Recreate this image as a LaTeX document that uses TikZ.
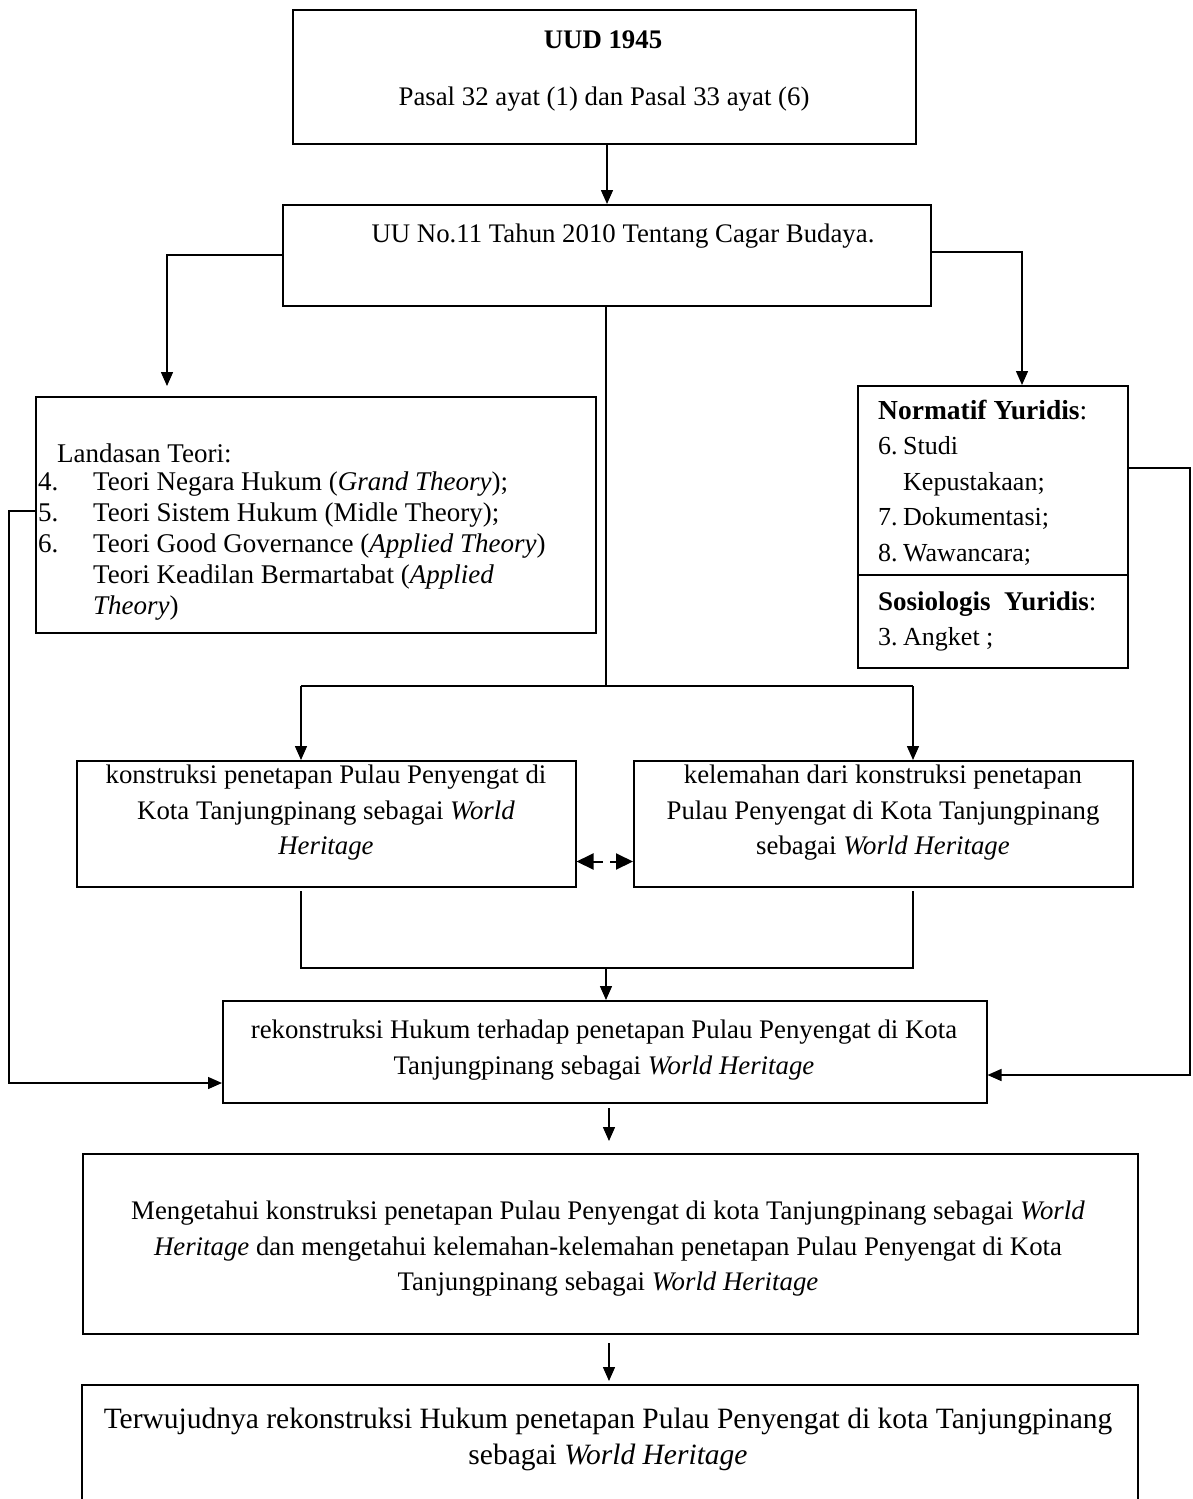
\documentclass[tikz,border=0pt]{standalone}
\usepackage{fontspec}
\setmainfont{Liberation Serif}
\usetikzlibrary{arrows.meta,calc}
\newcommand{\fA}{\fontsize{26.8}{35.5}\selectfont}
\newcommand{\fB}{\fontsize{27}{31.2}\selectfont}
\newcommand{\fC}{\fontsize{26}{35.5}\selectfont}
\newcommand{\fD}{\fontsize{29.5}{36}\selectfont}
\begin{document}
\begin{tikzpicture}[x=1pt,y=-1pt,
  box/.style={draw, line width=1.5pt, anchor=north west, inner sep=0pt},
  ln/.style={line width=1.5pt},
  arr/.style={line width=1.5pt, -{Triangle[length=14pt,width=12pt]}},
  txt/.style={inner sep=0pt, align=center, font=\fA}]
\clip (0,0) rectangle (1192,1499);
\useasboundingbox (0,0) rectangle (1192,1499);
\fill[white] (0,0) rectangle (1192,1499);

% boxes
\node[box, minimum width=623pt, minimum height=134pt] (b1) at (292,9) {};
\node[box, minimum width=648pt, minimum height=101pt] (b2) at (282,204) {};
\node[box, minimum width=560pt, minimum height=236pt] (b3) at (35,396) {};
\node[box, minimum width=270pt, minimum height=282pt] (b4) at (857,385) {};
\node[box, minimum width=499pt, minimum height=126pt] (b5) at (76,760) {};
\node[box, minimum width=499pt, minimum height=126pt] (b6) at (633,760) {};
\node[box, minimum width=764pt, minimum height=102pt] (b7) at (222,1000) {};
\node[box, minimum width=1055pt, minimum height=180pt] (b8) at (82,1153) {};
\node[box, minimum width=1056pt, minimum height=160pt] (b9) at (81,1384) {};

% texts
\node[txt, font=\fA\bfseries] (t1a) at (603,40) {UUD 1945};
\node[txt] (t1b) at (604,99) {Pasal 32 ayat (1) dan Pasal 33 ayat (6)};
\node[txt] (t2) at (623,236) {UU No.11 Tahun 2010 Tentang Cagar Budaya.};
\node[txt, anchor=west, font=\fB] (t3a) at (57,453) {Landasan Teori:};
\node[txt, anchor=north west, font=\fB, align=left] (t3b) at (38,468) {%
  \begin{tabular}{@{}p{55pt}@{}l@{}}
  4. & Teori Negara Hukum (\textit{Grand Theory});\\
  5. & Teori Sistem Hukum (Midle Theory);\\
  6. & Teori Good Governance (\textit{Applied Theory})\\
     & Teori Keadilan Bermartabat (\textit{Applied}\\
     & \textit{Theory})
  \end{tabular}};
\node[txt, anchor=north west, font=\fC, align=left] (t4a) at (878,394) {%
  \begin{tabular}{@{}p{25pt}@{}l@{}}
  \multicolumn{2}{@{}l@{}}{\fontsize{27.5}{35.5}\selectfont\textbf{Normatif Yuridis}:}\\
  6. & Studi\\
     & Kepustakaan;\\
  7. & Dokumentasi;\\
  8. & Wawancara;
  \end{tabular}};
\node[txt, anchor=north west, font=\fC, align=left] (t4b) at (878,585) {%
  \begin{tabular}{@{}p{25pt}@{}l@{}}
  \multicolumn{2}{@{}l@{}}{\fontsize{27}{35.5}\selectfont\textbf{Sosiologis\ \ Yuridis}:}\\
  3. & Angket ;
  \end{tabular}};
\node[txt] (t5) at (326,813) {konstruksi penetapan Pulau Penyengat di\\Kota Tanjungpinang sebagai \textit{World}\\\textit{Heritage}};
\node[txt] (t6) at (883,813) {kelemahan dari konstruksi penetapan\\Pulau Penyengat di Kota Tanjungpinang\\sebagai \textit{World Heritage}};
\node[txt] (t7) at (604,1050) {rekonstruksi Hukum terhadap penetapan Pulau Penyengat di Kota\\Tanjungpinang sebagai \textit{World Heritage}};
\node[txt] (t8) at (608,1249) {Mengetahui konstruksi penetapan Pulau Penyengat di kota Tanjungpinang sebagai \textit{World}\\\textit{Heritage} dan mengetahui kelemahan-kelemahan penetapan Pulau Penyengat di Kota\\Tanjungpinang sebagai \textit{World Heritage}};
\node[txt, font=\fD] (t9) at (608,1439) {Terwujudnya rekonstruksi Hukum penetapan Pulau Penyengat di kota Tanjungpinang\\sebagai \textit{World Heritage}};

% divider in b4
\coordinate (dv) at (0,575);
\draw[ln] (b4.west |- dv) -- (b4.east |- dv);

% connectors
\coordinate (A1) at (607,145);
\draw[arr] (A1) -- (A1 |- b2.north);
\coordinate (TL) at (167,255);
\coordinate (TLe) at (167,386);
\draw[arr] (b2.west |- TL) -- (TL) -- (TLe);
\coordinate (TR) at (1022,252);
\draw[arr] (b2.east |- TR) -- (TR) -- (TR |- b4.north);
\coordinate (C) at (606,686);
\coordinate (J1) at (301,686);
\coordinate (J2) at (913,686);
\draw[ln] (b2.south -| C) -- (C);
\draw[ln] (J1) -- (J2);
\draw[arr] (J1) -- (J1 |- b5.north);
\draw[arr] (J2) -- (J2 |- b6.north);
\draw[line width=2pt, dash pattern=on 10pt off 7pt, {Triangle[length=17pt,width=16pt]}-{Triangle[length=17pt,width=16pt]}]
  ([yshift=26pt]b5.south east) -- ([yshift=26pt]b6.south west);
\coordinate (K1t) at (301,891);
\coordinate (K1) at (301,968);
\coordinate (K2) at (913,968);
\coordinate (K2t) at (913,891);
\coordinate (K0) at (606,968);
\draw[ln] (K1t) -- (K1) -- (K2) -- (K2t);
\draw[arr] (K0) -- (K0 |- b7.north);
\coordinate (L) at (9,511);
\coordinate (L2) at (9,1083);
\draw[arr] (b3.west |- L) -- (L) -- (L2) -- (b7.west |- L2);
\coordinate (R) at (1190,468);
\coordinate (R2) at (1190,1075);
\draw[arr] (b4.east |- R) -- (R) -- (R2) -- (b7.east |- R2);
\coordinate (D1) at (609,1108);
\coordinate (D2) at (609,1141);
\draw[arr] (D1) -- (D2);
\coordinate (E1) at (609,1343);
\coordinate (E2) at (609,1381);
\draw[arr] (E1) -- (E2);
\end{tikzpicture}
\end{document}
